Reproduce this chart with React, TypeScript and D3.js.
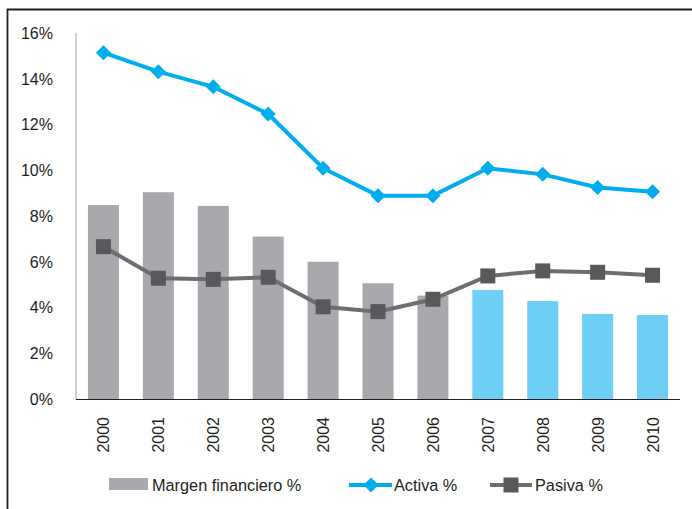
import React from "react";
import * as d3 from "d3";

const years = ["2000","2001","2002","2003","2004","2005","2006","2007","2008","2009","2010"];
const margen = [8.48, 9.04, 8.44, 7.10, 6.00, 5.06, 4.52, 4.77, 4.28, 3.72, 3.67];
const activa = [15.14, 14.31, 13.65, 12.46, 10.09, 8.89, 8.89, 10.09, 9.82, 9.25, 9.06];
const pasiva = [6.66, 5.28, 5.23, 5.32, 4.03, 3.82, 4.36, 5.38, 5.60, 5.54, 5.41];
const yTicks = [0, 2, 4, 6, 8, 10, 12, 14, 16];
const forecastFrom = "2007";

const W = 692, H = 509;
const left = 76, right = 680, top = 33, bottom = 399;
const font = "Arial, 'Liberation Sans', sans-serif";

export default function App() {
  const x = d3.scaleBand<string>().domain(years).range([left, right]).paddingInner(0.435).paddingOuter(0.2175);
  const y = d3.scaleLinear().domain([0, 16]).range([bottom, top]);
  const cx = (d: string) => (x(d) as number) + x.bandwidth() / 2;
  const line = d3.line<number>().x((_, i) => cx(years[i])).y((v) => y(v));
  const diamond = "M0,-7.5L7.5,0L0,7.5L-7.5,0Z";
  const forecastIdx = years.indexOf(forecastFrom);

  return (
    <svg width={W} height={H} style={{ position: "absolute", left: 0, top: 0, display: "block", fontFamily: font }}>
      <rect x={0} y={0} width={W} height={H} fill="#fff" />
      <path d={`M7.5,${H} V9.5 H${W}`} fill="none" stroke="#231f20" strokeWidth={1.8} />
      {margen.map((v, i) => (
        <rect key={years[i]} x={x(years[i])} y={y(v)} width={x.bandwidth()} height={y(0) - y(v)}
          fill={i >= forecastIdx ? "#6dcff6" : "#a7a9ac"} />
      ))}
      <line x1={left} x2={left} y1={top} y2={bottom} stroke="#a0a0a0" strokeWidth={1} />
      <line x1={left} x2={right} y1={bottom + 0.5} y2={bottom + 0.5} stroke="#231f20" strokeWidth={1.2} />
      {yTicks.map((t) => (
        <text key={t} x={53} y={y(t)} dy="0.36em" textAnchor="end" fontSize={16} fill="#231f20">{t}%</text>
      ))}
      {years.map((yr) => (
        <text key={yr} transform={`translate(${cx(yr) + 6},417) rotate(-90)`} textAnchor="end" fontSize={16} fill="#231f20">{yr}</text>
      ))}
      <path d={line(pasiva) || ""} fill="none" stroke="#6d6e71" strokeWidth={4} />
      {pasiva.map((v, i) => (
        <rect key={i} x={cx(years[i]) - 7.5} y={y(v) - 7.5} width={15} height={15} fill="#58595b" />
      ))}
      <path d={line(activa) || ""} fill="none" stroke="#00aeef" strokeWidth={4} />
      {activa.map((v, i) => (
        <path key={i} d={diamond} transform={`translate(${cx(years[i])},${y(v)})`} fill="#00aeef" />
      ))}
      {/* legend */}
      <rect x={109} y={478} width={39} height={12} fill="#a7a9ac" />
      <text x={152} y={485} dy="0.36em" fontSize={16.3} fill="#231f20">Margen financiero %</text>
      <line x1={349} x2={392} y1={485} y2={485} stroke="#00aeef" strokeWidth={4} />
      <path d={diamond} transform="translate(371,485)" fill="#00aeef" />
      <text x={394} y={485} dy="0.36em" fontSize={16.3} fill="#231f20">Activa %</text>
      <line x1={490} x2={532} y1={485} y2={485} stroke="#6d6e71" strokeWidth={4} />
      <rect x={503.5} y={477.5} width={15} height={15} fill="#58595b" />
      <text x={535} y={485} dy="0.36em" fontSize={16.3} fill="#231f20">Pasiva %</text>
    </svg>
  );
}
